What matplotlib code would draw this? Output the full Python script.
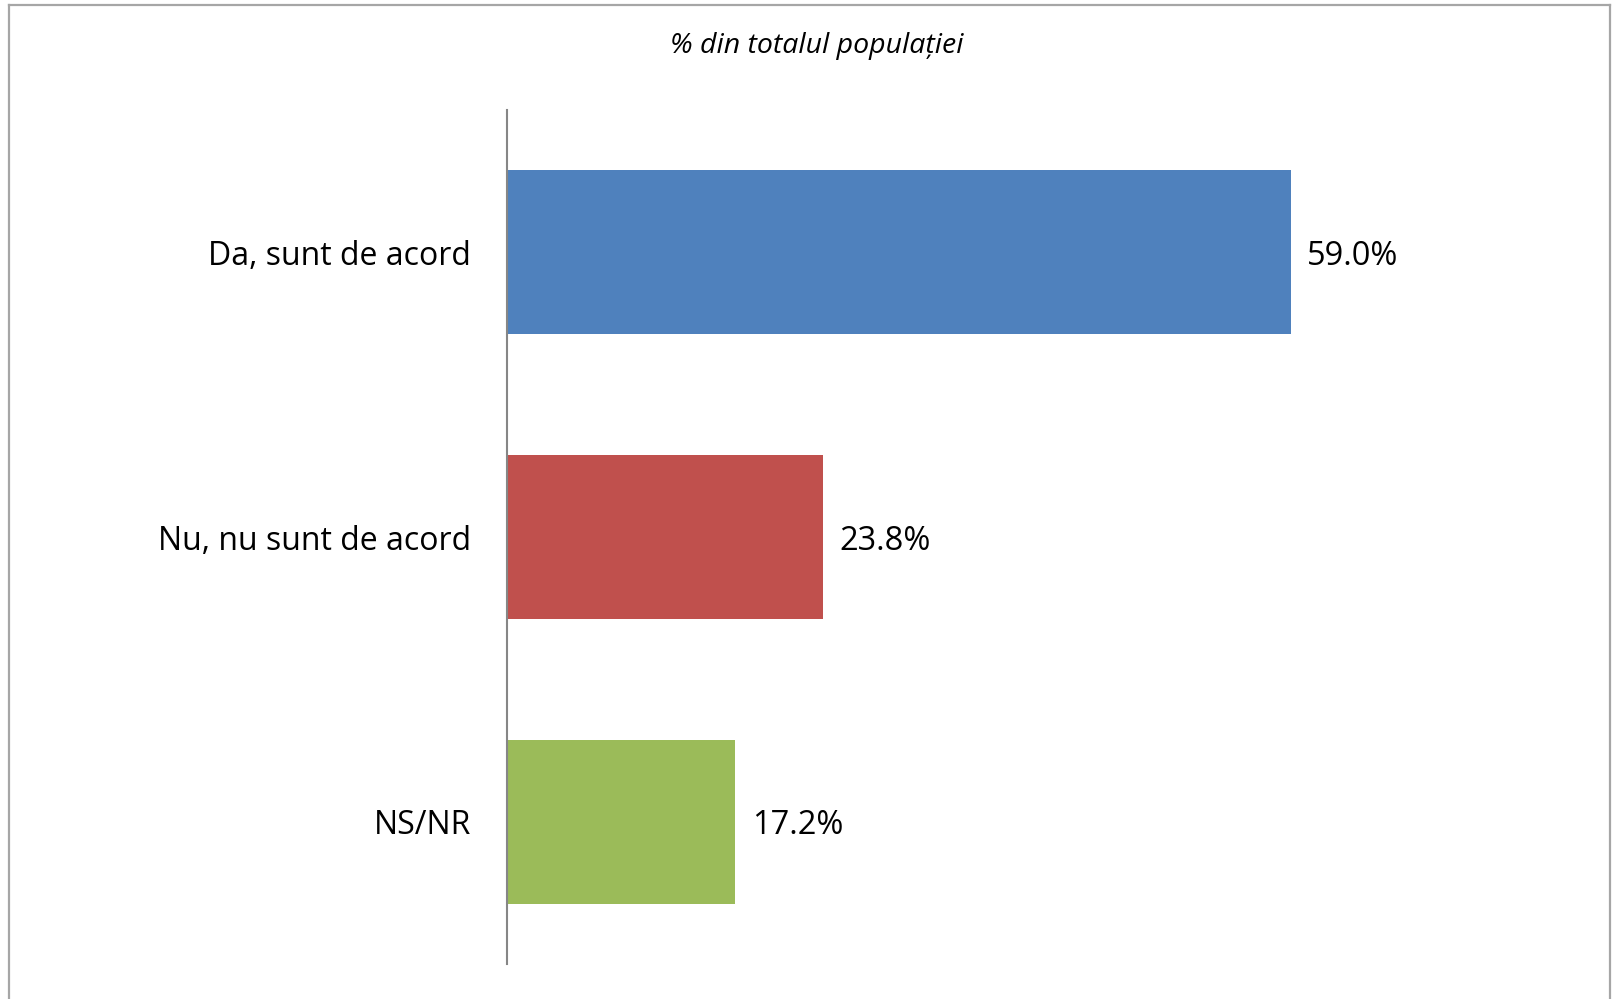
import matplotlib
matplotlib.use("Agg")
from matplotlib import pyplot as plt
from matplotlib.lines import Line2D

categories = ["Da, sunt de acord", "Nu, nu sunt de acord", "NS/NR"]
values = [59.0, 23.8, 17.2]
colors = ["#4F81BD", "#C0504D", "#9BBB59"]
title = "% din totalul populației"

W, H = 1612, 999
fig = plt.figure(figsize=(W / 100, H / 100), dpi=100)
plt.rcParams['font.family'] = ['Open Sans', 'DejaVu Sans']

# axes placed in pixel terms: left at 507, top at 110, bottom at 964
left, right, top, bottom = 507, 1560, 110, 964
ax = fig.add_axes([left / W, 1 - bottom / H, (right - left) / W, (bottom - top) / H])

px_per_unit = 13.28
ax.set_xlim(0, (right - left) / px_per_unit)
ax.set_ylim(2.5, -0.5)

ypos = list(range(len(categories)))
ax.barh(ypos, values, height=0.575, color=colors)
for y, v in zip(ypos, values):
    ax.text(v + 1.25, y, "%.1f%%" % v, va="center_baseline", ha="left", fontsize=23.5, color="#000000")

ax.set_yticks(ypos)
ax.set_yticklabels(categories, fontsize=23, va="center_baseline")
ax.tick_params(axis="y", length=0, pad=26)
ax.set_xticks([])
for s in ["top", "right", "bottom"]:
    ax.spines[s].set_visible(False)
ax.spines["left"].set_color("#868686")
ax.spines["left"].set_linewidth(1.5)

fig.text(817 / W, 1 - 46 / H, title, ha="center", va="center", fontsize=20.5, style="italic")

# chart frame
c = "#A6A6A6"
fig.add_artist(Line2D([9 / W, 9 / W], [0, 1 - 5 / H], color=c, lw=1.6, transform=fig.transFigure))
fig.add_artist(Line2D([9 / W, 1610 / W], [1 - 5 / H, 1 - 5 / H], color=c, lw=1.6, transform=fig.transFigure))
fig.add_artist(Line2D([1610 / W, 1610 / W], [0, 1 - 5 / H], color=c, lw=1.6, transform=fig.transFigure))

plt.savefig("out.png", dpi=100)
